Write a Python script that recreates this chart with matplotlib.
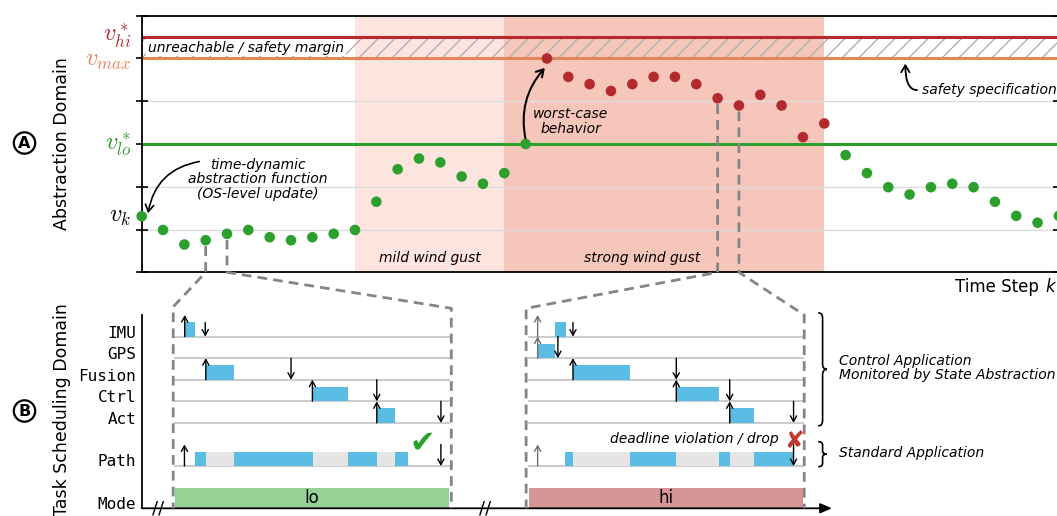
import matplotlib
matplotlib.use('Agg')
import matplotlib.pyplot as plt
from matplotlib.path import Path
from matplotlib.patches import PathPatch

plt.rcParams['mathtext.fontset'] = 'cm'
plt.rcParams['font.family'] = 'DejaVu Sans'

# ---- abstraction domain (top panel) ----
steps = list(range(44))
state = [1.31, 0.99, 0.65, 0.75, 0.90, 0.99, 0.82, 0.75, 0.82, 0.90,
         0.99, 1.65, 2.41, 2.66, 2.57, 2.24, 2.07, 2.32, 3.00, 5.00,
         4.57, 4.40, 4.24, 4.40, 4.57, 4.57, 4.40, 4.07, 3.90, 4.15,
         3.90, 3.16, 3.48, 2.74, 2.32, 1.99, 1.82, 1.99, 2.07, 1.99,
         1.65, 1.32, 1.16, 1.32]
hi_steps = list(range(19, 33))
v_hi, v_max, v_lo = 5.5, 5.0, 3.0
mild_gust = (10, 17)
strong_gust = (17, 32)
zoom_lo = (3, 4)
zoom_hi = (27, 28)

# ---- task scheduling domain (bottom panel), time in window units 0..100 ----
tasks = ['IMU', 'GPS', 'Fusion', 'Ctrl', 'Act']
task_rows = [1, 2, 3, 4, 5]
path_row = 7
mode_labels = ['lo', 'hi']

lo_release = [3.5, None, 11.2, 50.1, 73.6]
lo_exec = [(3.5, 7.3), None, (11.2, 21.5), (50.1, 63.0), (73.6, 80.3)]
lo_deadline = [11.0, None, 42.3, 73.6, 97.0]
lo_path_run = [(7.3, 11.3), (21.5, 50.3), (63.0, 73.6), (80.3, 84.9)]
lo_path_wait = [(11.3, 21.5), (50.3, 63.0), (73.6, 80.3)]
lo_path_release, lo_path_deadline = 3.4, 97.0

hi_release = [3.3, 3.3, 16.2, 53.9, 73.4]
hi_exec = [(9.7, 13.8), (3.3, 9.7), (16.2, 37.1), (53.9, 69.6), (73.4, 82.4)]
hi_deadline = [16.2, 10.7, 53.9, 73.4, 96.7]
hi_path_run = [(13.4, 16.3), (36.9, 53.9), (69.6, 73.6), (82.4, 96.7)]
hi_path_wait = [(16.3, 36.9), (53.9, 69.6), (73.6, 82.4)]
hi_path_release, hi_path_deadline = 3.3, 96.7

C_GREEN = '#2ca02c'
C_RED = '#b2292e'
C_HI = '#b8282d'
C_ORANGE = '#e3875a'
C_MILD = '#fde4df'
C_STRONG = '#f7c6ba'
C_RUN = '#5bbde3'
C_WAIT = '#e5e5e5'
C_LO_MODE = '#97d195'
C_HI_MODE = '#d69696'

W, H = 1057, 516
fig = plt.figure(figsize=(W / 100, H / 100), dpi=100)


def px_box(x0, y0, x1, y1):
    # pixel rect (origin top-left) -> figure fraction
    return [x0 / W, 1 - y1 / H, (x1 - x0) / W, (y1 - y0) / H]


# ================= top panel =================
ax = fig.add_axes(px_box(141.7, 15.7, 1058.9, 272.3))
ax.set_xlim(0, steps[-1])
ax.set_ylim(0, 6)
ax.axvspan(*mild_gust, color=C_MILD, lw=0, zorder=0)
ax.axvspan(*strong_gust, color=C_STRONG, lw=0, zorder=0)
ax.set_yticks(range(7))
ax.set_xticks([])
ax.grid(axis='y', color='#dcdcdc', lw=1)
ax.set_axisbelow(True)
ax.tick_params(axis='y', direction='inout', length=8, width=1.2,
               left=True, right=True, labelleft=False)
for s in ax.spines.values():
    s.set_linewidth(1.3)

ax.fill_between([0, steps[-1]], v_max, v_hi, facecolor='none',
                edgecolor='#b0b0b0', hatch='//', lw=0, zorder=1)
ax.axhline(v_hi, color=C_HI, lw=2.2, zorder=2)
ax.axhline(v_max, color=C_ORANGE, lw=2.2, zorder=2)
ax.axhline(v_lo, color=C_GREEN, lw=2.2, zorder=2)

colors = [C_RED if k in hi_steps else C_GREEN for k in steps]
ax.scatter(steps, state, s=58, c=colors, lw=0, zorder=5, clip_on=False)

for val, txt, col, dy in [(v_hi, r'$v^*_{hi}$', C_HI, 1), (v_max, r'$v_{max}$', C_ORANGE, -1),
                          (v_lo, r'$v^*_{lo}$', C_GREEN, 0), (state[0], r'$v_k$', 'black', 0)]:
    ax.annotate(txt, xy=(0, val), xycoords=ax.get_yaxis_transform(),
                xytext=(-7.5, dy), textcoords='offset points',
                ha='right', va='center', fontsize=17.5, color=col)

ax.text(0.3, (v_max + v_hi) / 2, 'unreachable / safety margin', style='italic',
        fontsize=10, ha='left', va='center', zorder=3,
        bbox=dict(boxstyle='square,pad=0.12', fc='white', ec='none'))
ax.text(13.5, 0.33, 'mild wind gust', style='italic', fontsize=10,
        ha='center', va='center')
ax.text(23.45, 0.33, 'strong wind gust', style='italic', fontsize=10,
        ha='center', va='center')

ax.text(5.45, 2.18, 'time-dynamic\nabstraction function\n(OS-level update)',
        style='italic', fontsize=10, ha='center', va='center', linespacing=1.05)
ax.annotate('', xy=(0.3, 1.38), xytext=(2.7, 2.59),
            arrowprops=dict(arrowstyle='->,head_length=0.5,head_width=0.3', lw=1.2,
                            color='black', connectionstyle='arc3,rad=0.35',
                            shrinkA=0, shrinkB=0))
ax.text(20.1, 3.53, 'worst-case\nbehavior', style='italic', fontsize=10,
        ha='center', va='center', linespacing=1.05)
ax.annotate('', xy=(18.9, 4.78), xytext=(18.0, 3.1),
            arrowprops=dict(arrowstyle='->,head_length=0.5,head_width=0.3', lw=1.5,
                            color='black', connectionstyle='arc3,rad=-0.25',
                            shrinkA=0, shrinkB=0))
ax.text(36.6, 4.26, 'safety specification', style='italic', fontsize=10,
        ha='left', va='center')
ax.annotate('', xy=(35.8, 4.88), xytext=(36.35, 4.26),
            arrowprops=dict(arrowstyle='->,head_length=0.5,head_width=0.3', lw=1.3,
                            color='black', connectionstyle='angle3,angleA=0,angleB=90',
                            shrinkA=0, shrinkB=0))

fig.text(955 / W, 1 - 287 / H, 'Time Step', fontsize=12, ha='left', va='center')
fig.text(1045 / W, 1 - 287 / H, 'k', fontsize=12, style='italic', ha='left', va='center')
fig.text(62 / W, 1 - 144 / H, 'Abstraction Domain', fontsize=12.5, rotation=90,
         ha='center', va='center')
fig.text(62 / W, 1 - 410 / H, 'Task Scheduling Domain', fontsize=12.5, rotation=90,
         ha='center', va='center')
for letter, yc in [('A', 143), ('B', 411)]:
    fig.text(24.5 / W, 1 - yc / H, letter, fontsize=11.5, weight='bold',
             ha='center', va='center',
             bbox=dict(boxstyle='circle,pad=0.2', fc='white', ec='black', lw=1.6))

# ================= bottom panel =================
SCALE = 2.74
axb = fig.add_axes(px_box(141.7, 315, 832, 508.3))
axb.set_xlim(0, (832 - 141.7) / SCALE)
axb.set_ylim(8.96, 0)
axb.set_xticks([])
axb.set_yticks([r - 0.23 for r in task_rows] + [path_row - 0.27, 8.7])
axb.set_yticklabels(tasks + ['Path', 'Mode'], family='DejaVu Sans Mono', fontsize=11.5)
axb.tick_params(axis='y', length=0, pad=4)
for side in ['top', 'right', 'bottom']:
    axb.spines[side].set_visible(False)
axb.spines['left'].set_linewidth(1.3)
axb.patch.set_alpha(0)
axb.annotate('', xy=(1, 0), xycoords='axes fraction', xytext=(0, 0),
             arrowprops=dict(arrowstyle='-|>,head_length=0.7,head_width=0.3', lw=1.3,
                             color='black', shrinkA=0, shrinkB=0))
for bx in [5.9, 125.3]:
    axb.text(bx, 8.96, '//', fontsize=13, ha='center', va='center', clip_on=False)

ARROW = '->,head_length=0.4,head_width=0.22'


def arrow(a, x, y0, y1, color='black'):
    a.annotate('', xy=(x, y1), xytext=(x, y0), annotation_clip=False,
               arrowprops=dict(arrowstyle=ARROW, lw=1.0, color=color,
                               shrinkA=0, shrinkB=0))


def draw_window(t0, release, execs, deadline, run, wait, p_rel, p_dl, mode, mode_col,
                rel_color):
    for r in task_rows + [path_row]:
        axb.plot([t0, t0 + 100], [r, r], color='#cccccc', lw=1.5, zorder=1)
    for i, r in enumerate(task_rows):
        if execs[i] is not None:
            s, e = execs[i]
            axb.broken_barh([(t0 + s, e - s)], (r - 0.67, 0.67), facecolor=C_RUN, zorder=2)
        if release[i] is not None:
            c = rel_color if release[i] < 5 else 'black'
            arrow(axb, t0 + release[i], r, r - 1.0, c)
        if deadline[i] is not None:
            length = 0.65 if i == 0 else 1.0
            arrow(axb, t0 + deadline[i], r - length, r)
    axb.broken_barh([(t0 + s, e - s) for s, e in run], (path_row - 0.67, 0.67),
                    facecolor=C_RUN, zorder=2)
    axb.broken_barh([(t0 + s, e - s) for s, e in wait], (path_row - 0.67, 0.67),
                    facecolor=C_WAIT, zorder=2)
    arrow(axb, t0 + p_rel, path_row, path_row - 1.0, rel_color)
    arrow(axb, t0 + p_dl, path_row - 1.0, path_row)
    axb.broken_barh([(t0, 100)], (8.0, 0.93), facecolor=mode_col, zorder=2)
    axb.text(t0 + 50, 8.5, mode, fontsize=12, ha='center', va='center', zorder=3)


T_LO, T_HI = 12.2, 141.2
draw_window(T_LO, lo_release, lo_exec, lo_deadline, lo_path_run, lo_path_wait,
            lo_path_release, lo_path_deadline, mode_labels[0], C_LO_MODE, 'black')
draw_window(T_HI, hi_release, hi_exec, hi_deadline, hi_path_run, hi_path_wait,
            hi_path_release, hi_path_deadline, mode_labels[1], C_HI_MODE, '#707070')

axb.text(T_LO + 90.2, 5.95, '\u2714', color=C_GREEN, fontsize=22,
         ha='center', va='center', zorder=4)
axb.text(T_HI + 91.2, 5.75, 'deadline violation / drop', style='italic', fontsize=10,
         ha='right', va='center')
axb.text(T_HI + 96.7, 5.85, '\u2718', color='#c0392b', fontsize=17,
         ha='center', va='center', zorder=4)


def brace(a, x, y0, y1, w, d=0.25):
    xm, ym = x + w / 2, (y0 + y1) / 2
    verts = [(x, y0), (xm, y0), (xm, y0 + d), (xm, ym - d), (xm, ym), (x + w, ym),
             (xm, ym), (xm, ym + d), (xm, y1 - d), (xm, y1), (x, y1)]
    codes = [Path.MOVETO, Path.CURVE3, Path.CURVE3, Path.LINETO, Path.CURVE3, Path.CURVE3,
             Path.CURVE3, Path.CURVE3, Path.LINETO, Path.CURVE3, Path.CURVE3]
    a.add_patch(PathPatch(Path(verts, codes), fc='none', ec='black', lw=1.2,
                          clip_on=False))


brace(axb, 246.9, -0.1, 5.14, 3.2)
brace(axb, 246.9, 5.87, 7.03, 3.2, d=0.15)
axb.text(254.5, 2.45, 'Control Application\nMonitored by State Abstraction',
         style='italic', fontsize=10, ha='left', va='center', linespacing=1.05)
axb.text(254.5, 6.4, 'Standard Application', style='italic', fontsize=10,
         ha='left', va='center')

# ================= zoom connectors =================
ov = fig.add_axes([0, 0, 1, 1])
ov.set_xlim(0, W)
ov.set_ylim(0, H)
ov.axis('off')


def connector(k, t_edge, r_top):
    p0 = ax.transData.transform((k, state[k]))
    p1 = ax.transData.transform((k, 0))
    p2 = axb.transData.transform((t_edge, r_top))
    p3 = axb.transData.transform((t_edge, 8.96))
    xs = [p0[0], p1[0], p2[0], p3[0]]
    ys = [p0[1] - 6, p1[1], p2[1], p3[1]]
    ov.plot(xs, ys, color='#858585', lw=2.0, ls=(0, (3.5, 2.2)), zorder=1)


connector(zoom_lo[0], T_LO - 0.7, -0.38)
connector(zoom_lo[1], T_LO + 100.8, -0.31)
connector(zoom_hi[0], T_HI - 0.9, -0.31)
connector(zoom_hi[1], T_HI + 100.6, 0.0)

fig.savefig('out.png', dpi=100)
